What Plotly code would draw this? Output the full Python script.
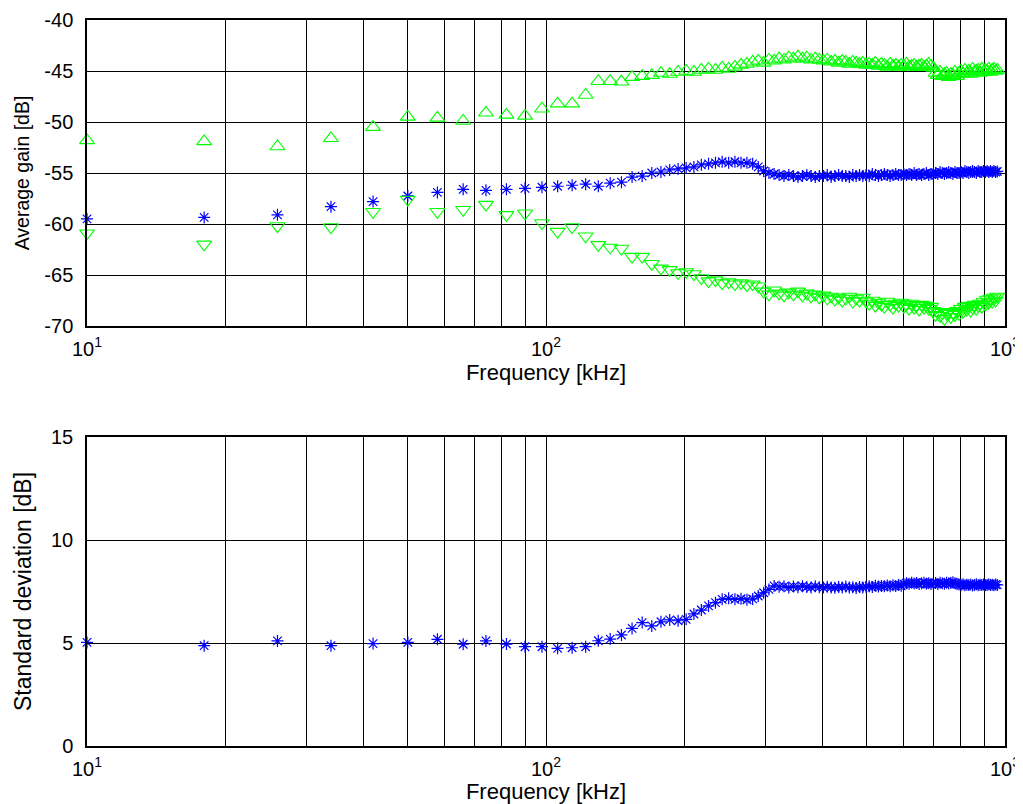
import plotly.graph_objects as go
from plotly.subplots import make_subplots

# frequency points [kHz]
freq = [10, 18, 26, 34, 42, 50, 58, 66, 74, 82, 90, 98, 106, 114, 122, 130, 138, 146, 154, 162,
        170, 178, 186, 194, 202, 210, 218, 226, 234, 242, 250, 258, 266, 274, 282, 290, 298, 306, 314, 322,
        330, 338, 346, 354, 362, 370, 378, 386, 394, 402, 410, 418, 426, 434, 442, 450, 458, 466, 474, 482,
        490, 498, 506, 514, 522, 530, 538, 546, 554, 562, 570, 578, 586, 594, 602, 610, 618, 626, 634, 642,
        650, 658, 666, 674, 682, 690, 698, 706, 714, 722, 730, 738, 746, 754, 762, 770, 778, 786, 794, 802,
        810, 818, 826, 834, 842, 850, 858, 866, 874, 882, 890, 898, 906, 914, 922, 930, 938, 946, 954, 962]

# upper bound of average gain (triangle up)
gain_upper = [-51.8, -51.9, -52.4, -51.6, -50.5, -49.5, -49.6, -49.9, -49.1, -49.3, -49.4, -48.7, -48.2, -48.2, -47.35, -46.0, -46.0, -46.05, -45.6, -45.5,
              -45.4, -45.2, -45.3, -45.1, -45.0, -45.1, -44.9, -44.8, -44.9, -44.7, -44.8, -44.6, -44.4, -44.3, -44.1, -44.0, -44.2, -43.9, -44.0, -43.8,
              -43.9, -43.7, -43.8, -43.6, -43.8, -43.7, -43.9, -43.8, -43.9, -44.0, -43.9, -44.1, -44.0, -44.2, -44.0, -44.1, -44.3, -44.1, -44.2, -44.3,
              -44.2, -44.4, -44.3, -44.4, -44.2, -44.5, -44.3, -44.4, -44.6, -44.3, -44.5, -44.4, -44.6, -44.4, -44.5, -44.3, -44.6, -44.5, -44.4, -44.6,
              -44.5, -44.4, -44.6, -44.5, -44.3, -44.5, -44.7, -45.2, -45.4, -45.1, -45.5, -45.3, -45.2, -45.6, -45.3, -45.4, -45.1, -45.5, -45.2, -45.0,
              -45.3, -44.9, -45.2, -45.0, -45.3, -44.8, -45.1, -45.0, -44.9, -45.2, -44.8, -45.1, -44.9, -45.0, -44.8, -45.1, -44.9, -44.8, -45.0, -44.9]

# average gain (asterisk)
gain_mean = [-59.5, -59.35, -59.1, -58.3, -57.8, -57.25, -56.9, -56.6, -56.7, -56.6, -56.5, -56.4, -56.3, -56.2, -56.1, -56.3, -56.0, -55.9, -55.4, -55.3,
             -55.0, -54.9, -54.7, -54.6, -54.5, -54.4, -54.2, -54.1, -54.0, -53.9, -54.0, -53.9, -54.0, -54.0, -54.1, -54.4, -54.8, -55.0, -55.1, -55.2,
             -55.3, -55.2, -55.3, -55.4, -55.3, -55.2, -55.3, -55.4, -55.3, -55.3, -55.2, -55.4, -55.3, -55.2, -55.3, -55.3, -55.4, -55.2, -55.3, -55.2,
             -55.3, -55.2, -55.3, -55.1, -55.2, -55.3, -55.2, -55.1, -55.2, -55.3, -55.2, -55.1, -55.2, -55.2, -55.1, -55.2, -55.1, -55.2, -55.0, -55.2,
             -55.1, -55.2, -55.1, -55.0, -55.2, -55.1, -55.1, -55.0, -55.1, -54.9, -55.0, -55.1, -55.0, -54.9, -55.0, -55.1, -54.9, -55.0, -55.0, -54.9,
             -55.0, -54.8, -54.9, -55.0, -54.9, -54.8, -54.9, -55.0, -54.8, -54.9, -54.9, -54.8, -54.9, -54.8, -54.9, -54.8, -54.9, -54.8, -54.9, -54.85]

# lower bound of average gain (triangle down)
gain_lower = [-60.9, -62.0, -60.2, -60.3, -58.8, -57.6, -58.8, -58.6, -58.1, -59.1, -58.95, -59.9, -60.75, -60.3, -61.2, -62.05, -62.3, -62.4, -63.2, -63.2,
              -63.9, -64.35, -64.5, -64.8, -64.7, -64.9, -65.3, -65.6, -65.5, -65.8, -65.7, -65.9, -65.8, -66.0, -65.9, -66.1, -66.6, -66.9, -66.5, -66.8,
              -67.0, -66.7, -66.9, -66.6, -67.0, -66.8, -67.1, -66.9, -67.2, -67.0, -67.3, -67.1, -67.4, -67.2, -67.5, -67.3, -67.1, -67.6, -67.3, -67.5,
              -67.2, -67.6, -67.8, -67.5, -68.0, -67.7, -67.9, -68.1, -67.6, -67.9, -68.2, -67.8, -68.0, -67.7, -68.1, -67.9, -68.3, -67.8, -68.2, -68.0,
              -68.4, -67.9, -68.2, -68.0, -68.3, -68.1, -68.5, -68.9, -68.6, -69.0, -68.7, -69.3, -68.8, -68.6, -69.1, -68.7, -68.9, -68.5, -68.8, -68.3,
              -68.6, -68.1, -68.4, -68.0, -68.5, -68.2, -67.9, -68.3, -68.0, -67.8, -68.1, -67.6, -67.9, -67.4, -67.7, -67.3, -67.6, -67.2, -67.5, -67.1]

# standard deviation (asterisk)
gain_std = [5.03, 4.87, 5.1, 4.87, 4.97, 5.03, 5.18, 4.94, 5.1, 4.95, 4.82, 4.82, 4.74, 4.77, 4.82, 5.11, 5.19, 5.39, 5.71, 5.99,
            5.83, 6.03, 6.12, 6.08, 6.15, 6.41, 6.6, 6.8, 6.96, 7.12, 7.17, 7.12, 7.15, 7.1, 7.14, 7.28, 7.44, 7.6, 7.77, 7.73,
            7.75, 7.7, 7.74, 7.71, 7.76, 7.72, 7.7, 7.75, 7.71, 7.69, 7.73, 7.7, 7.68, 7.72, 7.7, 7.74, 7.69, 7.71, 7.67, 7.72,
            7.7, 7.73, 7.76, 7.72, 7.78, 7.74, 7.77, 7.75, 7.79, 7.76, 7.8, 7.77, 7.81, 7.78, 7.86, 7.9, 7.88, 7.92, 7.89, 7.91,
            7.87, 7.9, 7.93, 7.88, 7.9, 7.86, 7.89, 7.91, 7.87, 7.92, 7.9, 7.88, 7.93, 7.89, 7.91, 7.95, 7.9, 7.86, 7.84, 7.82,
            7.85, 7.8, 7.83, 7.81, 7.84, 7.79, 7.82, 7.85, 7.8, 7.83, 7.81, 7.84, 7.8, 7.82, 7.85, 7.81, 7.83, 7.8, 7.84, 7.82]

x_tickvals = [10, 20, 30, 40, 50, 60, 70, 80, 90, 100, 200, 300, 400, 500, 600, 700, 800, 900, 1000]
x_ticktext = ["10<sup>1</sup>"] + [""] * 8 + ["10<sup>2</sup>"] + [""] * 8 + ["10<sup>3</sup>"]
gain_ticks = [-70, -65, -60, -55, -50, -45, -40]
gain_ticktext = ["-70", "-65", "-60", "-55", "-50", "-45", "-40"]
std_ticks = [0, 5, 10, 15]

BLUE = "#0000ff"
GREEN = "#00ff00"
FONT = "Liberation Sans"

fig = make_subplots(rows=2, cols=1)

fig.add_trace(go.Scatter(x=freq, y=gain_upper, mode="markers", cliponaxis=False,
                         marker=dict(symbol="triangle-up-open", size=13, color=GREEN, line=dict(color=GREEN, width=1.1))),
              row=1, col=1)
fig.add_trace(go.Scatter(x=freq, y=gain_mean, mode="markers", cliponaxis=False,
                         marker=dict(symbol="asterisk-open", size=10, color=BLUE, line=dict(color=BLUE, width=1.2))),
              row=1, col=1)
fig.add_trace(go.Scatter(x=freq, y=gain_lower, mode="markers", cliponaxis=False,
                         marker=dict(symbol="triangle-down-open", size=13, color=GREEN, line=dict(color=GREEN, width=1.1))),
              row=1, col=1)
fig.add_trace(go.Scatter(x=freq, y=gain_std, mode="markers", cliponaxis=False,
                         marker=dict(symbol="asterisk-open", size=10, color=BLUE, line=dict(color=BLUE, width=1.2))),
              row=2, col=1)

xaxis_style = dict(
    type="log", range=[1, 3], tickmode="array", tickvals=x_tickvals, ticktext=x_ticktext,
    showgrid=True, gridcolor="black", gridwidth=1, showline=True, linecolor="black", linewidth=1.5,
    mirror=True, ticks="", zeroline=False, automargin=False, tickfont=dict(size=20, color="black"),
    ticklabelstandoff=4,
    title=dict(text="Frequency [kHz]", font=dict(size=22, color="black"), standoff=4),
)
yaxis_style = dict(
    showgrid=True, gridcolor="black", gridwidth=1, showline=True, linecolor="black", linewidth=1.5,
    mirror=True, ticks="inside", ticklen=5, tickcolor="black", zeroline=False, automargin=False,
    tickmode="array", tickfont=dict(size=20, color="black"), ticklabelstandoff=8,
)

fig.update_xaxes(**xaxis_style)
fig.update_yaxes(**yaxis_style)

# page body adds an 8px offset, so the figure is 8px smaller than the window
fig.update_layout(
    width=1015, height=796,
    margin=dict(l=79, r=18, t=12, b=58),
    paper_bgcolor="white", plot_bgcolor="white",
    showlegend=False,
    font=dict(family=FONT, color="black"),
    xaxis=dict(domain=[0, 1]),
    xaxis2=dict(domain=[0, 1]),
    yaxis=dict(domain=[0.5785, 1], range=[-70, -40], tickvals=gain_ticks, ticktext=gain_ticktext,
               title=dict(text="Average gain [dB]", font=dict(size=19.5, color="black"), standoff=10)),
    yaxis2=dict(domain=[0, 0.4256], range=[0, 15], tickvals=std_ticks,
                title=dict(text="Standard deviation [dB]", font=dict(size=23, color="black"), standoff=13)),
)

fig.write_html("out.html")
